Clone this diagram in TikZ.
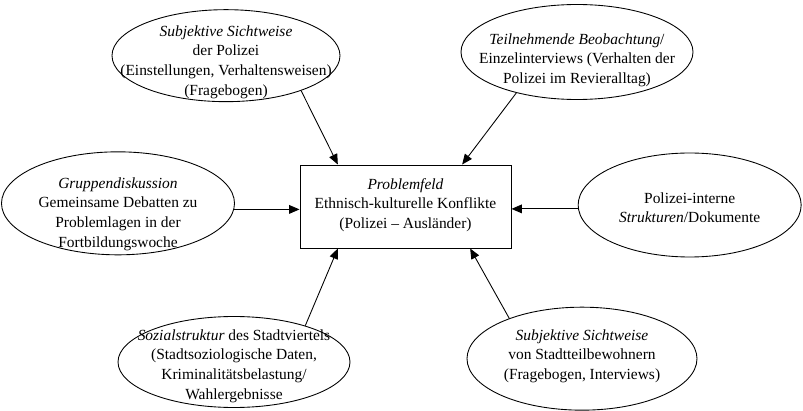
\documentclass[tikz,border=0pt]{standalone}
\usepackage{fontspec}
\setmainfont{Liberation Serif}
\usetikzlibrary{shapes.geometric,arrows.meta}
\begin{document}
\begin{tikzpicture}[
        feld/.style={draw, ellipse, inner sep=0pt, line width=0.75pt},
        txt/.style={align=center, font=\fontsize{13.2}{16.8}\selectfont},
        pfeil/.style={-{Triangle[length=3.1mm,width=2.6mm]}, line width=0.75pt}
    ]
            \useasboundingbox (0,0) rectangle (24.09,-12.33);

            \node[
                draw,
                line width=0.85pt,
                minimum width=6.33cm,
                minimum height=2.49cm,
                name=problem
            ] at (12.165,-6.195) {};
            \node[txt, name=problem-txt] at (12.165,-6.15)
                {\textit{Problemfeld}\\Ethnisch-kulturelle Konflikte\\(Polizei -- Ausländer)};

            \node[feld, minimum width=6.84cm, minimum height=2.76cm, name=polizei] at (6.78,-1.67) {};
            \node[txt, name=polizei-txt] at (6.78,-1.86)
                {\textit{Subjektive Sichtweise}\\der Polizei\\(Einstellungen, Verhaltensweisen)\\(Fragebogen)};

            \node[feld, minimum width=6.96cm, minimum height=2.85cm, name=beobachtung] at (17.31,-1.56) {};
            \node[txt, name=beobachtung-txt] at (17.31,-1.8)
                {\textit{Teilnehmende Beobachtung}/\\Einzelinterviews (Verhalten der\\Polizei im Revieralltag)};

            \node[feld, minimum width=6.99cm, minimum height=3.09cm, name=gruppe] at (3.54,-6.10) {};
            \node[txt, name=gruppe-txt] at (3.54,-6.42)
                {\textit{Gruppendiskussion}\\Gemeinsame Debatten zu\\Problemlagen in der\\Fortbildungswoche};

            \node[feld, minimum width=6.69cm, minimum height=3.12cm, name=strukturen] at (20.69,-6.15) {};
            \node[txt, name=strukturen-txt] at (20.69,-6.23)
                {Polizei-interne\\\textit{Strukturen}/Dokumente};

            \node[feld, minimum width=6.96cm, minimum height=2.73cm, name=sozial] at (7.02,-10.86) {};
            \node[txt, name=sozial-txt] at (7.02,-10.98)
                {\textit{Sozialstruktur} des Stadtviertels\\(Stadtsoziologische Daten,\\Kriminalitätsbelastung/\\Wahlergebnisse};

            \node[feld, minimum width=6.9cm, minimum height=3.09cm, name=bewohner] at (17.46,-10.76) {};
            \node[txt, name=bewohner-txt] at (17.46,-10.68)
                {\textit{Subjektive Sichtweise}\\von Stadtteilbewohnern\\(Fragebogen, Interviews)};

            \draw[pfeil] (polizei.-25) -- ([xshift=-2.03cm]problem.north);
            \draw[pfeil] (beobachtung.214) -- ([xshift=1.7cm]problem.north);

            \draw[pfeil] (gruppe.-3.5) -- (gruppe.-3.5 -| problem.west);
            \draw[pfeil] (strukturen.182.6) -- (strukturen.182.6 -| problem.east);

            \draw[pfeil] (sozial.27) -- ([xshift=-2.03cm]problem.south);
            \draw[pfeil] (bewohner.151) -- ([xshift=1.94cm]problem.south);
        \end{tikzpicture}
\end{document}
